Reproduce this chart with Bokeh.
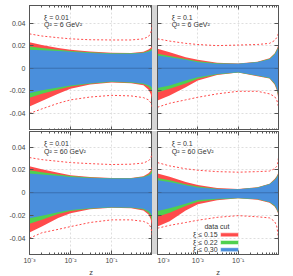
from bokeh.plotting import figure
from bokeh.layouts import column, row
from bokeh.models import (FixedTicker, CustomJSTickFormatter, Label, Range1d, Span,
                          LogAxis, LinearAxis, Spacer)
from bokeh.embed import file_html
from bokeh.resources import INLINE

# ---------------- data ----------------
Z = [0.001, 0.002, 0.005, 0.01, 0.03, 0.1, 0.3, 0.6, 0.8, 0.9, 0.96, 1.0]

XI = ["0.01", "0.1", "0.01", "0.1"]
Q2 = ["6", "6", "60", "60"]

# panel A: xi = 0.01, Q2 = 6
A_red_hi = [0.0230, 0.0205, 0.0180, 0.0163, 0.0148, 0.0136, 0.0135, 0.0145, 0.0165, 0.0180, 0.0192, 0.0200]
A_green_hi = [0.0192, 0.0178, 0.0163, 0.0152, 0.0142, 0.0132, 0.0132, 0.0140, 0.0155, 0.0165, 0.0172, 0.0178]
A_blue_hi = [0.0163, 0.0158, 0.0152, 0.0145, 0.0135, 0.0127, 0.0128, 0.0135, 0.0145, 0.0152, 0.0158, 0.0163]
A_blue_lo = [-0.0221, -0.0195, -0.0170, -0.0153, -0.0133, -0.0118, -0.0124, -0.0135, -0.0150, -0.0160, -0.0172, -0.0180]
A_green_lo = [-0.0262, -0.0225, -0.0188, -0.0162, -0.0138, -0.0122, -0.0128, -0.0142, -0.0165, -0.0185, -0.0205, -0.0220]
A_red_lo = [-0.0339, -0.0290, -0.0225, -0.0182, -0.0145, -0.0127, -0.0133, -0.0150, -0.0190, -0.0225, -0.0265, -0.0300]
A_dot_hi = [0.0304, 0.0285, 0.0270, 0.0260, 0.0252, 0.0250, 0.0250, 0.0260, 0.0280, 0.0310, 0.0350, 0.0420]
A_dot_lo = [-0.0400, -0.0360, -0.0310, -0.0280, -0.0255, -0.0240, -0.0245, -0.0260, -0.0280, -0.0305, -0.0330, -0.0360]

# panel B: xi = 0.1, Q2 = 6
B_red_hi = [0.0172, 0.0142, 0.0097, 0.0074, 0.0048, 0.0042, 0.0057, 0.0088, 0.0130, 0.0165, 0.0190, 0.0216]
B_green_hi = [0.0127, 0.0108, 0.0082, 0.0062, 0.0044, 0.0040, 0.0055, 0.0084, 0.0125, 0.0158, 0.0180, 0.0200]
B_blue_hi = [0.0112, 0.0097, 0.0074, 0.0053, 0.0039, 0.0039, 0.0053, 0.0080, 0.0120, 0.0150, 0.0170, 0.0185]
B_blue_lo = [-0.0174, -0.0153, -0.0109, -0.0080, -0.0050, -0.0035, -0.0065, -0.0085, -0.0130, -0.0170, -0.0210, -0.0250]
B_green_lo = [-0.0212, -0.0182, -0.0135, -0.0094, -0.0055, -0.0037, -0.0067, -0.0088, -0.0137, -0.0180, -0.0225, -0.0270]
B_red_lo = [-0.0286, -0.0242, -0.0168, -0.0109, -0.0060, -0.0038, -0.0070, -0.0092, -0.0145, -0.0190, -0.0240, -0.0290]
B_dot_hi = [0.0260, 0.0240, 0.0220, 0.0210, 0.0200, 0.0205, 0.0210, 0.0220, 0.0245, 0.0270, 0.0290, 0.0320]
B_dot_lo = [-0.0345, -0.0310, -0.0280, -0.0257, -0.0227, -0.0204, -0.0204, -0.0227, -0.0250, -0.0280, -0.0310, -0.0350]

# panel C: xi = 0.01, Q2 = 60
C_red_hi = [0.0232, 0.0205, 0.0175, 0.0154, 0.0138, 0.0130, 0.0130, 0.0145, 0.0170, 0.0190, 0.0220, 0.0250]
C_green_hi = [0.0197, 0.0180, 0.0160, 0.0146, 0.0134, 0.0127, 0.0128, 0.0140, 0.0160, 0.0175, 0.0195, 0.0215]
C_blue_hi = [0.0168, 0.0160, 0.0148, 0.0139, 0.0130, 0.0125, 0.0125, 0.0135, 0.0150, 0.0160, 0.0170, 0.0180]
C_blue_lo = [-0.0223, -0.0200, -0.0170, -0.0150, -0.0135, -0.0127, -0.0128, -0.0140, -0.0160, -0.0180, -0.0200, -0.0220]
C_green_lo = [-0.0272, -0.0235, -0.0185, -0.0160, -0.0140, -0.0129, -0.0131, -0.0147, -0.0175, -0.0200, -0.0240, -0.0275]
C_red_lo = [-0.0348, -0.0295, -0.0220, -0.0180, -0.0145, -0.0132, -0.0135, -0.0155, -0.0190, -0.0230, -0.0280, -0.0330]
C_dot_hi = [0.0308, 0.0290, 0.0275, 0.0264, 0.0255, 0.0247, 0.0250, 0.0260, 0.0280, 0.0300, 0.0330, 0.0360]
C_dot_lo = [-0.0397, -0.0350, -0.0320, -0.0296, -0.0260, -0.0237, -0.0237, -0.0250, -0.0270, -0.0300, -0.0340, -0.0380]

# panel D: xi = 0.1, Q2 = 60
D_red_hi = [0.0169, 0.0140, 0.0095, 0.0067, 0.0042, 0.0033, 0.0048, 0.0080, 0.0120, 0.0145, 0.0165, 0.0180]
D_green_hi = [0.0130, 0.0110, 0.0075, 0.0055, 0.0036, 0.0031, 0.0046, 0.0077, 0.0115, 0.0138, 0.0157, 0.0170]
D_blue_hi = [0.0110, 0.0095, 0.0065, 0.0047, 0.0032, 0.0030, 0.0045, 0.0075, 0.0110, 0.0130, 0.0150, 0.0160]
D_blue_lo = [-0.0159, -0.0135, -0.0095, -0.0063, -0.0052, -0.0045, -0.0055, -0.0080, -0.0110, -0.0135, -0.0160, -0.0170]
D_green_lo = [-0.0209, -0.0175, -0.0115, -0.0078, -0.0058, -0.0047, -0.0057, -0.0084, -0.0115, -0.0142, -0.0168, -0.0180]
D_red_lo = [-0.0296, -0.0250, -0.0155, -0.0101, -0.0066, -0.0049, -0.0060, -0.0088, -0.0120, -0.0150, -0.0175, -0.0190]
D_dot_hi = [0.0264, 0.0235, 0.0210, 0.0197, 0.0185, 0.0180, 0.0185, 0.0190, 0.0210, 0.0230, 0.0260, 0.0310]
D_dot_lo = [-0.0310, -0.0285, -0.0260, -0.0240, -0.0215, -0.0200, -0.0210, -0.0220, -0.0250, -0.0290, -0.0350, -0.0426]

Y_TICKS = [-0.04, -0.02, 0.0, 0.02, 0.04]
X_TICKS = [1e-3, 1e-2, 1e-1]
LEGEND_LABELS = ["ξ ≤ 0.15", "ξ ≤ 0.22", "ξ ≤ 0.30"]

# ---------------- style ----------------
RED = "#ff4b4b"
GREEN = "#4fd04f"
BLUE = "#4a8fdc"
ZERO = "#3a6fb0"
AXIS = "#555555"
GAP = "#d6d6d6"
FONT = "Liberation Sans"
COLORS = [RED, GREEN, BLUE]

PANELS = [
    dict(red_hi=A_red_hi, green_hi=A_green_hi, blue_hi=A_blue_hi, blue_lo=A_blue_lo,
         green_lo=A_green_lo, red_lo=A_red_lo, dot_hi=A_dot_hi, dot_lo=A_dot_lo),
    dict(red_hi=B_red_hi, green_hi=B_green_hi, blue_hi=B_blue_hi, blue_lo=B_blue_lo,
         green_lo=B_green_lo, red_lo=B_red_lo, dot_hi=B_dot_hi, dot_lo=B_dot_lo),
    dict(red_hi=C_red_hi, green_hi=C_green_hi, blue_hi=C_blue_hi, blue_lo=C_blue_lo,
         green_lo=C_green_lo, red_lo=C_red_lo, dot_hi=C_dot_hi, dot_lo=C_dot_lo),
    dict(red_hi=D_red_hi, green_hi=D_green_hi, blue_hi=D_blue_hi, blue_lo=D_blue_lo,
         green_lo=D_green_lo, red_lo=D_red_lo, dot_hi=D_dot_hi, dot_lo=D_dot_lo),
]

# per-row layout: y range, frame height, borders, annotation heights
ROWS = [
    dict(y0=-0.0551, y1=0.0555, fh=125, top=5, bot=0, t1=0.0451, t2=0.0387),
    dict(y0=-0.0540, y1=0.0536, fh=123, top=1, bot=20, t1=0.0429, t2=0.0359),
]

MINOR = [k * 10.0 ** e for e in (-3, -2, -1) for k in range(2, 10)]

X_CODE = """
const s = {'-': '\u207b', '0': '\u2070', '1': '\u00b9', '2': '\u00b2', '3': '\u00b3'};
const e = Math.round(Math.log10(tick));
return '10' + String(e).split('').map(c => s[c]).join('');
"""
Y_CODE = "return Math.abs(tick) < 1e-9 ? '0' : tick.toFixed(2);"


def style_axis(ax, labels, standoff=3):
    ax.major_tick_in = 4
    ax.major_tick_out = 0
    ax.minor_tick_in = 2
    ax.minor_tick_out = 0
    ax.axis_line_color = AXIS
    ax.major_tick_line_color = AXIS
    ax.minor_tick_line_color = AXIS
    ax.major_label_text_font = FONT
    ax.major_label_text_color = "#444444"
    if labels:
        ax.major_label_text_font_size = "7px"
        ax.major_label_standoff = standoff
    else:
        ax.major_label_text_font_size = "1px"
        ax.major_label_text_alpha = 0
        ax.major_label_standoff = 0


def make_panel(i):
    d = PANELS[i]
    col, rw = i % 2, i // 2
    left = col == 0
    bottom = rw == 1
    r = ROWS[rw]
    p = figure(x_axis_type="log", x_range=Range1d(1e-3, 1), y_range=Range1d(r["y0"], r["y1"]),
               frame_width=123 if left else 121, frame_height=r["fh"],
               min_border_left=29 if left else 0, min_border_right=0 if left else 12,
               min_border_top=r["top"], min_border_bottom=r["bot"],
               output_backend="svg", toolbar_location=None)
    p.outline_line_color = AXIS
    p.outline_line_alpha = 1.0

    p.varea(x=Z, y1=d["red_lo"], y2=d["red_hi"], fill_color=RED)
    p.varea(x=Z, y1=d["green_lo"], y2=d["green_hi"], fill_color=GREEN)
    p.varea(x=Z, y1=d["blue_lo"], y2=d["blue_hi"], fill_color=BLUE)
    p.add_layout(Span(location=0, dimension="width", line_color=ZERO, line_width=1))
    p.line(Z, d["dot_hi"], line_color=RED, line_dash="2 2", line_width=1)
    p.line(Z, d["dot_lo"], line_color=RED, line_dash="2 2", line_width=1)

    xt = FixedTicker(ticks=X_TICKS, minor_ticks=MINOR)
    yt = FixedTicker(ticks=Y_TICKS, minor_ticks=[])
    xa = p.xaxis[0]
    xa.ticker = xt
    xa.formatter = CustomJSTickFormatter(code=X_CODE)
    style_axis(xa, bottom, standoff=2)
    if bottom:
        xa.axis_label = "z"
        xa.axis_label_text_font = FONT
        xa.axis_label_text_font_size = "7.5px"
        xa.axis_label_text_font_style = "normal"
        xa.axis_label_text_color = "#444444"
        xa.axis_label_standoff = 1
    ya = p.yaxis[0]
    ya.ticker = yt
    ya.formatter = CustomJSTickFormatter(code=Y_CODE)
    style_axis(ya, left, standoff=4)

    top_ax = LogAxis(ticker=FixedTicker(ticks=X_TICKS, minor_ticks=MINOR))
    style_axis(top_ax, False)
    p.add_layout(top_ax, "above")
    right_ax = LinearAxis(ticker=FixedTicker(ticks=Y_TICKS, minor_ticks=[]))
    style_axis(right_ax, False)
    p.add_layout(right_ax, "right")

    p.grid.grid_line_color = "#dedede"
    p.grid.grid_line_dash = "2 2"

    p.add_layout(Label(x=0.00227, y=r["t1"], text=f"ξ = {XI[i]}", text_font=FONT,
                       text_font_size="7px", text_baseline="middle", text_color="#333333"))
    p.add_layout(Label(x=0.00227, y=r["t2"], text=f"Q² = {Q2[i]} GeV²", text_font=FONT,
                       text_font_size="7px", text_baseline="middle", text_color="#333333"))

    if i == 3:
        leg_y = [-0.0368, -0.0435, -0.0498]
        half = 0.00174
        p.add_layout(Label(x=0.0297, y=-0.0296, text="data cut", text_font=FONT,
                           text_font_size="7px", text_align="center",
                           text_baseline="middle", text_color="#333333"))
        for lab, yy in zip(LEGEND_LABELS, leg_y):
            p.add_layout(Label(x=0.0308, y=yy, text=lab, text_font=FONT,
                               text_font_size="7px", text_align="right",
                               text_baseline="middle", text_color="#333333"))
        p.quad(left=[0.0366] * 3, right=[0.1023] * 3,
               top=[y + half for y in leg_y], bottom=[y - half for y in leg_y],
               fill_color=COLORS, line_color="white", line_width=0.5)
    return p


figs = [make_panel(i) for i in range(4)]


def gap(rw):
    r = ROWS[rw]
    return Spacer(width=5, height=r["fh"], margin=(r["top"], 0, 0, 0),
                  styles={"background-color": GAP})


layout = column(row(figs[0], gap(0), figs[1], spacing=0),
                row(figs[2], gap(1), figs[3], spacing=0), spacing=0)

open("out.html", "w").write(file_html(layout, INLINE))
